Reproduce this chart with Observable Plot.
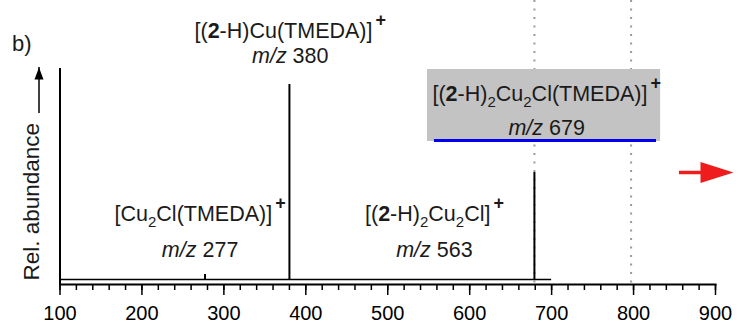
<!DOCTYPE html>
<html><head><meta charset="utf-8">
<script src="https://cdn.jsdelivr.net/npm/d3@7"></script>
<script src="https://cdn.jsdelivr.net/npm/@observablehq/plot@0.6"></script>
<style>
body{margin:0;background:#fff;}
#chart svg{display:block;overflow:visible;}
</style></head><body><div id="chart"></div>
<script>
// ---- data ----
const peakMz = [277, 380, 563, 679];
const peakAbundance = [5, 100, 2.5, 56];
const baselineRange = [100, 700];
const xTickLabels = [100, 200, 300, 400, 500, 600, 700, 800, 900];
const xMinorTicks = d3.range(100, 901, 20);
const markerLines = [679, 797];
const labelTitles = [
  "[Cu<sub>2</sub>Cl(TMEDA)]<sup>+</sup>",
  "[(<b>2</b>-H)Cu(TMEDA)]<sup>+</sup>",
  "[(<b>2</b>-H)<sub>2</sub>Cu<sub>2</sub>Cl]<sup>+</sup>",
  "[(<b>2</b>-H)<sub>2</sub>Cu<sub>2</sub>Cl(TMEDA)]<sup>+</sup>"
];
const labelMz = ["<i>m/z</i> 277", "<i>m/z</i> 380", "<i>m/z</i> 563", "<i>m/z</i> 679"];
const labelX = [271, 381, 557, 694];
const labelTitleY = [32.7, 124.2, 32.7, 92.7];
const labelMzY = [14.7, 111.7, 14.7, 75.7];
const highlightBox = {x1: 548.5, x2: 833, y1: 69, y2: 105};
const highlightLine = {x1: 557, x2: 828, y: 69.5};
const redArrow = {x1: 856, x2: 922, y: 53.5};
const yArrow = {y1: 83, y2: 106};
const panelLetter = "b)";
const yLabel = "Rel. abundance";

const peaks = peakMz.map((mz, i) => ({mz, ab: peakAbundance[i]}));
const labels = peakMz.map((mz, i) => ({x: labelX[i], title: labelTitles[i], mzText: labelMz[i], ty: labelTitleY[i], my: labelMzY[i]}));

const arrowRight = {draw(ctx) { ctx.moveTo(0, 0); ctx.lineTo(-33, -10.5); ctx.lineTo(-33, 10.5); ctx.closePath(); }};
const arrowUp = {draw(ctx) { ctx.moveTo(0, 0); ctx.lineTo(-4.5, 12); ctx.lineTo(4.5, 12); ctx.closePath(); }};

const font = "Liberation Sans, Arial, Helvetica, sans-serif";

const chart = Plot.plot({
  width: 738,
  height: 323,
  marginLeft: 59.5,
  marginRight: 23,
  marginTop: 68,
  marginBottom: 39,
  style: {fontFamily: font, fontSize: "21.5px", color: "#000", background: "#fff", overflow: "visible"},
  x: {domain: [100, 900], axis: null},
  y: {domain: [-2.5, 105.5], axis: null},
  marks: [
    // dotted marker lines
    Plot.ruleX(markerLines, {stroke: "#9a9a9a", strokeWidth: 2, strokeDasharray: "2,6.5", insetTop: -68}),
    // highlight box
    Plot.rect([highlightBox], {x1: "x1", x2: "x2", y1: "y1", y2: "y2", fill: "#c3c3c3"}),
    Plot.ruleY([highlightLine], {x1: "x1", x2: "x2", y: "y", stroke: "#0000ee", strokeWidth: 3}),
    // x axis
    Plot.frame({anchor: "bottom", strokeWidth: 2}),
    Plot.axisX({ticks: xMinorTicks, tickSize: 6, text: null, strokeWidth: 1.5}),
    Plot.axisX({ticks: xTickLabels, tickSize: 11, tickPadding: 10, strokeWidth: 1.5, fontSize: 20, tickFormat: d => String(d)}),
    // y axis line
    Plot.ruleX([100], {strokeWidth: 2}),
    // spectrum baseline
    Plot.ruleY([0], {x1: baselineRange[0], x2: baselineRange[1], strokeWidth: 1.5}),
    // peaks
    Plot.ruleX(peaks, {x: "mz", y1: 0, y2: "ab", strokeWidth: 2, insetBottom: -5}),
    // labels
    Plot.text(labels, {x: "x", y: "ty", text: "title", fill: "#1a1a1a"}),
    Plot.text(labels, {x: "x", y: "my", text: "mzText", fill: "#1a1a1a"}),
    // red arrow
    Plot.ruleY([redArrow], {x1: "x1", x2: d => 900, y: "y", stroke: "#ee1c1c", strokeWidth: 3.5}),
    Plot.dot([redArrow], {x: "x2", y: "y", symbol: arrowRight, fill: "#ee1c1c", stroke: "none"}),
    // y label with arrow
    Plot.text([yLabel], {frameAnchor: "bottom-left", rotate: -90, textAnchor: "start", dx: -21, dy: -4, fill: "#1a1a1a", fontSize: 22.5}),
    Plot.ruleX([yArrow], {x: d => 100, y1: "y1", y2: "y2", dx: -21, strokeWidth: 1.5}),
    Plot.dot([yArrow], {x: d => 100, y: "y2", dx: -21, symbol: arrowUp, fill: "#000", stroke: "none"}),
    // panel letter
    Plot.text([panelLetter], {frameAnchor: "top-left", textAnchor: "start", dx: -48, dy: -33, fill: "#1a1a1a", fontSize: 22})
  ]
});

// rich text: bold, italic, sub, sup
d3.select(chart).selectAll("text").each(function() {
  const t = this.textContent;
  if (!t.includes("<")) return;
  const el = d3.select(this);
  el.text(null);
  const parts = t.split(/(<\/?(?:b|i|sub|sup)>)/);
  let bold = false, ital = false, sub = false, sup = false, shift = 0;
  for (const p of parts) {
    if (!p) continue;
    const m = p.match(/^<(\/?)(b|i|sub|sup)>$/);
    if (m) {
      const on = !m[1];
      if (m[2] === "b") bold = on; else if (m[2] === "i") ital = on; else if (m[2] === "sub") sub = on; else sup = on;
      continue;
    }
    const target = sub ? 6 : sup ? -12 : 0;
    const ts = el.append("tspan").text(p);
    if (target !== shift) { ts.attr("dy", target - shift); shift = target; }
    if (bold) ts.attr("font-weight", "bold");
    if (ital) ts.attr("font-style", "italic");
    if (sub) ts.attr("font-size", "15px");
    if (sup) ts.attr("font-size", "18px").attr("font-weight", "bold").attr("dx", 3);
  }
});

document.getElementById("chart").append(chart);
</script></body></html>
